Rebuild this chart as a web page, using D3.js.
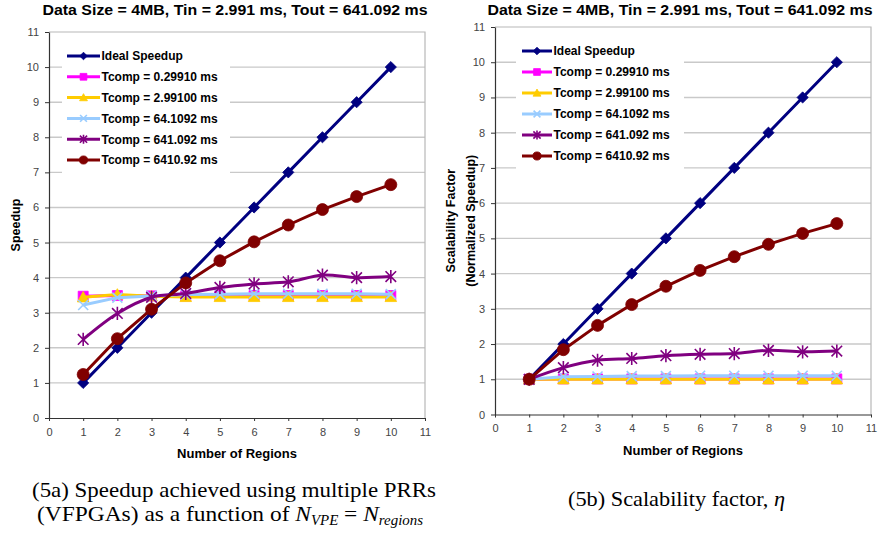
<!DOCTYPE html>
<html><head><meta charset="utf-8">
<script src="https://cdn.jsdelivr.net/npm/d3@7"></script>
<style>body{margin:0;background:#fff;} svg{display:block;}</style>
</head><body>
<svg id="c" width="884" height="537"></svg>
<script>
// ---------- DATA ----------
const regions = [1, 2, 3, 4, 5, 6, 7, 8, 9, 10];
const axisTicks = [0, 1, 2, 3, 4, 5, 6, 7, 8, 9, 10, 11];
const seriesNames = ["Ideal Speedup", "Tcomp = 0.29910 ms", "Tcomp = 2.99100 ms",
  "Tcomp = 64.1092 ms", "Tcomp = 641.092 ms", "Tcomp = 6410.92 ms"];
const seriesColors = ["#000080", "#FF00FF", "#FFCC00", "#99CCFF", "#800080", "#800000"];
const seriesMarkers = ["diamond", "square", "triangle", "x", "star", "circle"];
const chartTitle = "Data Size = 4MB, Tin = 2.991 ms, Tout = 641.092 ms";
const xAxisTitle = "Number of Regions";

// (5a) Speedup
const speedupIdeal = [1, 2, 3, 4, 5, 6, 7, 8, 9, 10];
const speedupT0299 = [3.47, 3.49, 3.48, 3.48, 3.49, 3.49, 3.49, 3.49, 3.49, 3.49];
const speedupT2991 = [3.44, 3.52, 3.47, 3.45, 3.45, 3.45, 3.45, 3.45, 3.45, 3.45];
const speedupT64 = [3.22, 3.43, 3.48, 3.52, 3.53, 3.54, 3.54, 3.54, 3.54, 3.53];
const speedupT641 = [2.24, 2.98, 3.44, 3.55, 3.72, 3.82, 3.88, 4.07, 4.00, 4.03];
const speedupT6410 = [1.24, 2.26, 3.10, 3.85, 4.48, 5.02, 5.50, 5.94, 6.31, 6.65];

// (5b) Scalability factor
const scaleIdeal = [1, 2, 3, 4, 5, 6, 7, 8, 9, 10];
const scaleT0299 = [1.00, 1.01, 1.01, 1.01, 1.01, 1.01, 1.01, 1.01, 1.01, 1.01];
const scaleT2991 = [1.00, 1.00, 1.00, 1.00, 1.00, 1.00, 1.00, 1.00, 1.00, 1.00];
const scaleT64 = [1.00, 1.07, 1.08, 1.09, 1.09, 1.10, 1.10, 1.10, 1.10, 1.10];
const scaleT641 = [1.00, 1.33, 1.54, 1.59, 1.67, 1.71, 1.73, 1.82, 1.78, 1.80];
const scaleT6410 = [1.00, 1.84, 2.53, 3.12, 3.64, 4.09, 4.48, 4.83, 5.14, 5.42];

// ---------- DRAW ----------
const svg = d3.select("#c");
const SANS = "Arial, 'Liberation Sans', Helvetica, sans-serif";
const SERIF = "'Liberation Serif', 'Times New Roman', serif";

function markerPath(type, s) {
  const h = 5.6 * s;
  switch (type) {
    case "diamond": return `M0,${-h}L${h},0L0,${h}L${-h},0Z`;
    case "square": { const a = 5 * s; return `M${-a},${-a}H${a}V${a}H${-a}Z`; }
    case "triangle": { const a = 5.8 * s; return `M0,${-a}L${a},${a * 0.8}L${-a},${a * 0.8}Z`; }
    case "x": { const a = 5 * s; return `M${-a},${-a}L${a},${a}M${a},${-a}L${-a},${a}`; }
    case "star": { const a = 5.3 * s, v = 6.6 * s; return `M${-a},${-a}L${a},${a}M${a},${-a}L${-a},${a}M0,${-v}V${v}`; }
    case "circle": { const r = 6 * s; return `M${r},0A${r},${r} 0 1,1 ${-r},0A${r},${r} 0 1,1 ${r},0Z`; }
  }
}
function markerStyle(sel, type, color) {
  if (type === "x" || type === "star") {
    sel.attr("fill", "none").attr("stroke", color).attr("stroke-width", 1.6);
  } else {
    sel.attr("fill", color).attr("stroke", color).attr("stroke-width", 0.8);
  }
}

function drawChart(cfg) {
  const g = svg.append("g");
  const x = d3.scaleLinear().domain([0, 11]).range([cfg.left, cfg.right]);
  const y = d3.scaleLinear().domain([0, 11]).range([cfg.bottom, cfg.top]);

  // gridlines
  g.selectAll("line.grid").data(axisTicks.filter(t => t > 0 && t < 11)).join("line")
    .attr("x1", cfg.left).attr("x2", cfg.right)
    .attr("y1", d => y(d)).attr("y2", d => y(d))
    .attr("stroke", "#c9c9c9").attr("stroke-width", 1.4);
  // plot border top/right
  g.append("path").attr("d", `M${cfg.left},${y(11)}H${x(11)}V${y(0)}`)
    .attr("fill", "none").attr("stroke", "#b8b8b8").attr("stroke-width", 1.2);

  // legend background
  g.append("rect").attr("x", cfg.lgBox[0]).attr("y", cfg.lgBox[1])
    .attr("width", cfg.lgBox[2]).attr("height", cfg.lgBox[3]).attr("fill", "#fff");

  // axes
  const yAxis = d3.axisLeft(y).tickValues(axisTicks).tickSize(4).tickSizeOuter(0).tickPadding(6).tickFormat(d3.format("d"));
  const xAxis = d3.axisBottom(x).tickValues(axisTicks).tickSize(3).tickSizeOuter(0).tickPadding(7).tickFormat(d3.format("d"));
  [[yAxis, `translate(${cfg.left},0)`], [xAxis, `translate(0,${cfg.bottom})`]].forEach(([ax, tr]) => {
    const a = g.append("g").attr("transform", tr).call(ax);
    a.select(".domain").attr("stroke", "#333").attr("stroke-width", 1.2);
    a.selectAll(".tick line").attr("stroke", "#333");
    a.selectAll(".tick text").attr("fill", "#444").style("font", `11px ${SANS}`);
  });

  // series
  cfg.series.forEach((vals, si) => {
    const line = d3.line().x((d, i) => x(regions[i])).y(d => y(d))
      .curve(si === 4 ? d3.curveCatmullRom.alpha(0.5) : d3.curveLinear);
    g.append("path").attr("d", line(vals)).attr("fill", "none")
      .attr("stroke", seriesColors[si]).attr("stroke-width", 3).attr("stroke-linejoin", "round");
    g.selectAll(null).data(vals).join("path")
      .attr("transform", (d, i) => `translate(${x(regions[i])},${y(d)})`)
      .attr("d", markerPath(seriesMarkers[si], 1))
      .call(markerStyle, seriesMarkers[si], seriesColors[si]);
  });

  // legend
  seriesNames.forEach((name, si) => {
    const ly = cfg.lg.y + si * cfg.lg.dy;
    g.append("line").attr("x1", cfg.lg.x).attr("x2", cfg.lg.x + cfg.lg.len)
      .attr("y1", ly).attr("y2", ly).attr("stroke", seriesColors[si]).attr("stroke-width", 3);
    g.append("path").attr("transform", `translate(${cfg.lg.x + cfg.lg.len / 2},${ly})`)
      .attr("d", markerPath(seriesMarkers[si], 0.68))
      .call(markerStyle, seriesMarkers[si], seriesColors[si]);
    g.append("text").attr("x", cfg.lg.x + cfg.lg.len + 1.5).attr("y", ly).attr("dy", "0.36em")
      .style("font", `bold 12px ${SANS}`).attr("fill", "#000").text(name);
  });

  // titles
  g.append("text").attr("x", cfg.titleX).attr("y", 15).attr("text-anchor", "middle")
    .style("font", `bold 14.5px ${SANS}`).attr("textLength", 385).attr("lengthAdjust", "spacingAndGlyphs")
    .text(chartTitle);
  g.append("text").attr("x", (cfg.left + cfg.right) / 2).attr("y", cfg.xTitleY).attr("dy", "0.36em")
    .attr("text-anchor", "middle").style("font", `bold 13px ${SANS}`).text(xAxisTitle);
  cfg.yTitle.forEach((t, i) => {
    g.append("text").attr("transform", `translate(${cfg.yTitleX[i]},${(cfg.top + cfg.bottom) / 2}) rotate(-90)`)
      .attr("dy", "0.36em").attr("text-anchor", "middle").style("font", `bold 12.5px ${SANS}`).text(t);
  });
}

drawChart({
  left: 49, right: 425, top: 32, bottom: 418, titleX: 235, xTitleY: 453,
  yTitle: ["Speedup"], yTitleX: [15],
  lgBox: [62, 40, 168, 140], lg: { x: 67, y: 56, dy: 20.8, len: 33 },
  series: [speedupIdeal, speedupT0299, speedupT2991, speedupT64, speedupT641, speedupT6410]
});
drawChart({
  left: 495, right: 871, top: 27, bottom: 414.5, titleX: 680, xTitleY: 450,
  yTitle: ["Scalability Factor", "(Normalized Speedup)"], yTitleX: [450, 470],
  lgBox: [516, 35, 168, 142], lg: { x: 522, y: 51, dy: 21, len: 30 },
  series: [scaleIdeal, scaleT0299, scaleT2991, scaleT64, scaleT641, scaleT6410]
});

// captions
const cap = svg.append("g").style("font-family", SERIF).attr("fill", "#000");
cap.append("text").attr("x", 234).attr("y", 497).attr("text-anchor", "middle")
  .style("font-size", "22px").attr("textLength", 404).attr("lengthAdjust", "spacingAndGlyphs")
  .text("(5a) Speedup achieved using multiple PRRs");
const c2 = cap.append("text").attr("x", 230).attr("y", 521).attr("text-anchor", "middle")
  .style("font-size", "22px").attr("textLength", 386).attr("lengthAdjust", "spacingAndGlyphs");
c2.append("tspan").text("(VFPGAs) as a function of ");
c2.append("tspan").style("font-style", "italic").text("N");
c2.append("tspan").style("font-style", "italic").style("font-size", "14px").attr("dy", 4).text("VPE");
c2.append("tspan").attr("dy", -4).text(" = ");
c2.append("tspan").style("font-style", "italic").text("N");
c2.append("tspan").style("font-style", "italic").style("font-size", "14px").attr("dy", 4).text("regions");
cap.append("text").attr("x", 676.5).attr("y", 506).attr("text-anchor", "middle")
  .style("font-size", "22px").attr("textLength", 217).attr("lengthAdjust", "spacingAndGlyphs")
  .html("(5b) Scalability factor, <tspan font-style='italic'>η</tspan>");
</script>
</body></html>
